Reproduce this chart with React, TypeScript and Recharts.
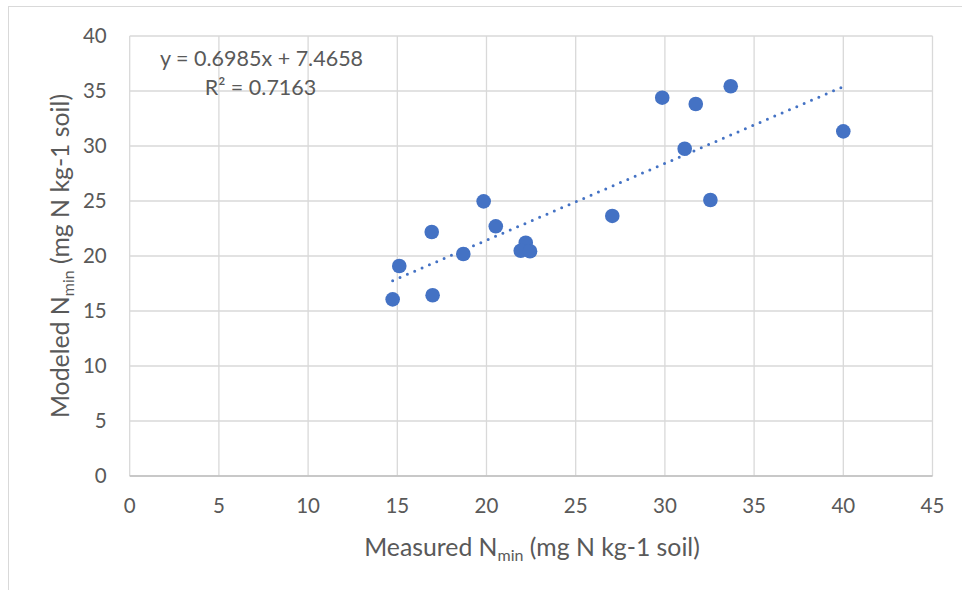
import React from "react";
import {
  ScatterChart,
  Scatter,
  XAxis,
  YAxis,
  CartesianGrid,
} from "recharts";

const measured = [14.74, 15.11, 16.93, 16.98, 18.7, 19.84, 20.52, 22.2, 21.92, 22.44, 27.05, 29.85, 31.73, 33.69, 31.11, 32.55, 40.0];
const modeled = [16.06, 19.09, 22.18, 16.43, 20.18, 24.97, 22.7, 21.21, 20.48, 20.43, 23.64, 34.39, 33.82, 35.43, 29.75, 25.09, 31.33];

// linear trendline endpoints
const trendMeasured = [14.74, 40.0];
const trendModeled = [17.76, 35.4];

const xTicks = [0, 5, 10, 15, 20, 25, 30, 35, 40, 45];
const yTicks = [0, 5, 10, 15, 20, 25, 30, 35, 40];

const points = measured.map((x, i) => ({ x, y: modeled[i] }));
const trend = trendMeasured.map((x, i) => ({ x, y: trendModeled[i] }));

const FONT = "Lato, 'Open Sans', sans-serif";
const GREY = "#595959";
const BLUE = "#4472C4";

const Dot = (p: any) => <circle cx={p.cx} cy={p.cy} r={7.3} fill={BLUE} />;

export default function App() {
  return (
    <div
      style={{
        position: "absolute",
        left: 0,
        top: 0,
        width: 962,
        height: 590,
        overflow: "hidden",
        background: "#fff",
        fontFamily: FONT,
      }}
    >
      <div
        style={{
          position: "absolute",
          left: 8,
          top: 6,
          width: 1000,
          height: 700,
          border: "1.5px solid #d9d9d9",
        }}
      />
      <ScatterChart
        width={962}
        height={590}
        margin={{ top: 36, right: 29.5, bottom: 54, left: 0 }}
        style={{ position: "absolute", left: 0, top: 0 }}
      >
        <CartesianGrid stroke="#d9d9d9" strokeWidth={1.3} />
        <XAxis
          type="number"
          dataKey="x"
          domain={[0, 45]}
          ticks={xTicks}
          height={60}
          tickLine={false}
          tickSize={0}
          tickMargin={22}
          axisLine={{ stroke: "#bfbfbf", strokeWidth: 1.5 }}
          tick={{ fill: GREY, fontSize: 20.5, fontFamily: FONT }}
        />
        <YAxis
          type="number"
          dataKey="y"
          domain={[0, 40]}
          ticks={yTicks}
          width={129.7}
          tickLine={false}
          axisLine={false}
          tickSize={0}
          tickMargin={23}
          tick={{ fill: GREY, fontSize: 20.5, fontFamily: FONT }}
        />
        <Scatter
          data={trend}
          isAnimationActive={false}
          shape={() => <g />}
          line={{
            stroke: BLUE,
            strokeWidth: 3,
            strokeDasharray: "0 8",
            strokeLinecap: "round",
          }}
        />
        <Scatter data={points} isAnimationActive={false} shape={Dot} />
      </ScatterChart>

      <div
        style={{
          position: "absolute",
          left: 160,
          width: 201,
          top: 44,
          textAlign: "center",
          color: GREY,
          fontSize: 21.5,
          lineHeight: "29px",
          whiteSpace: "nowrap",
        }}
      >
        <div>y = 0.6985x + 7.4658</div>
        <div>R² = 0.7163</div>
      </div>

      <div
        style={{
          position: "absolute",
          left: 532,
          top: 548,
          transform: "translate(-50%, -50%)",
          color: GREY,
          fontSize: 24.8,
          whiteSpace: "nowrap",
        }}
      >
        Measured N<sub style={{ fontSize: 16 }}>min</sub> (mg N kg-1 soil)
      </div>

      <div
        style={{
          position: "absolute",
          left: 61,
          top: 256,
          transform: "translate(-50%, -50%) rotate(-90deg)",
          color: GREY,
          fontSize: 24.8,
          whiteSpace: "nowrap",
        }}
      >
        Modeled N<sub style={{ fontSize: 16 }}>min</sub> (mg N kg-1 soil)
      </div>
    </div>
  );
}
